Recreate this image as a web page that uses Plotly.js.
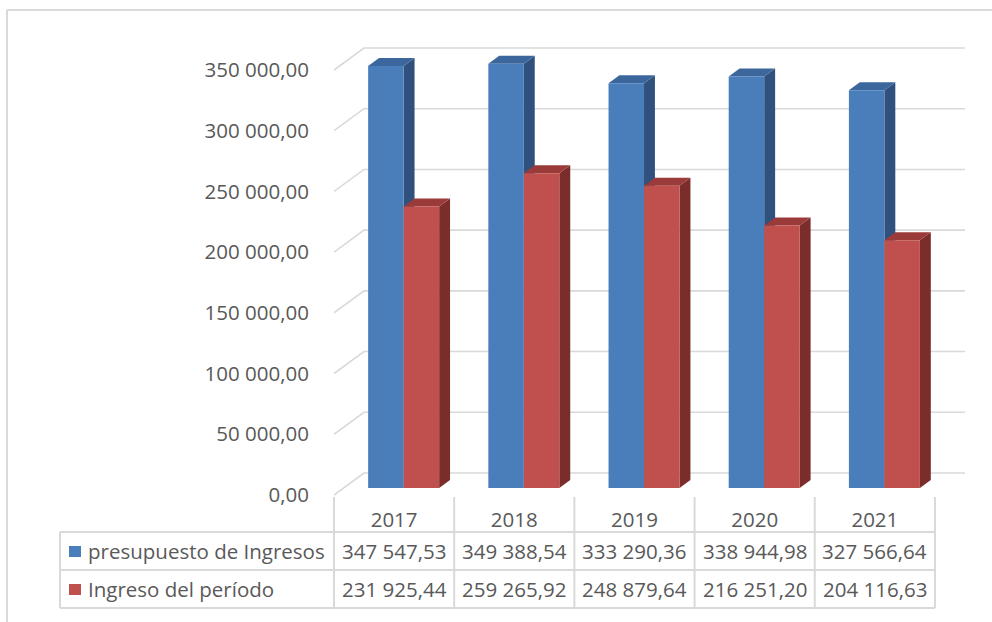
<!DOCTYPE html>
<html>
<head>
<meta charset="utf-8">
<script src="https://cdn.plot.ly/plotly-3.0.1.min.js"></script>
<style>html,body{margin:0;padding:0;background:#fff;}#chart{width:992px;height:622px;}</style>
</head>
<body>
<div id="chart"></div>
<script>
// ---- data ----
const categories = ['2017', '2018', '2019', '2020', '2021'];
const presupuesto = [347547.53, 349388.54, 333290.36, 338944.98, 327566.64];
const ingreso = [231925.44, 259265.92, 248879.64, 216251.20, 204116.63];
const seriesNames = ['presupuesto de Ingresos', 'Ingreso del período'];
const yTicks = [0, 50000, 100000, 150000, 200000, 250000, 300000, 350000];

// ---- geometry / style ----
const W = 992, H = 622;
const plotL = 334, plotR = 965, plotT = 30, plotB = 500;
const xMin = -0.5, xMax = 4.75;
const catPx = (plotR - plotL) / (xMax - xMin);
const frontZeroPx = 495;
const pxPerUnit = 425 / 350000;
const yMin = -(plotB - frontZeroPx) / pxPerUnit;
const yMax = (frontZeroPx - plotT) / pxPerUnit;
// depth of the 3D box (back wall offset)
const DX = 30 / catPx, DY = 22 / pxPerUnit;
const f1 = 7 / 22, f2 = 15 / 22;    // bar front / back depth fractions
const barW = 35.5 / catPx;
const gridColor = '#d9d9d9';
const textColor = '#595959';
const FONT = 'Open Sans, Liberation Sans, sans-serif';
const FSIZE = 20.5;
const colors = [
  {front: '#4a7ebb', top: '#3c679c', side: '#30517e'},
  {front: '#c0504d', top: '#9b3b39', side: '#7b2d2b'}
];

function xp(px) { return (px - plotL) / (plotR - plotL); }
function yp(py) { return (plotB - py) / (plotB - plotT); }
function xToPaper(x) { return (x - xMin) / (xMax - xMin); }

function fmt(v) {
  const s = v.toFixed(2).split('.');
  return s[0].replace(/\B(?=(\d{3})+(?!\d))/g, ' ') + ',' + s[1];
}

const traces = [];
// back wall gridlines with perspective diagonals
yTicks.forEach(t => {
  traces.push({
    type: 'scatter', mode: 'lines', hoverinfo: 'skip', showlegend: false,
    x: [xMin, xMin + DX, 4.5 + DX],
    y: [t, t + DY, t + DY],
    line: {color: gridColor, width: 1.6}
  });
});

function poly(xs, ys, color) {
  traces.push({
    type: 'scatter', mode: 'lines', fill: 'toself', fillcolor: color,
    hoverinfo: 'skip', showlegend: false,
    x: xs.concat([xs[0]]), y: ys.concat([ys[0]]),
    line: {width: 0, color: color}
  });
}

const series = [presupuesto, ingreso];
categories.forEach((c, i) => {
  series.forEach((vals, s) => {
    const v = vals[i];
    const cx = i + f1 * DX;
    const a = s === 0 ? cx - barW : cx;
    const b = a + barW;
    const y0 = f1 * DY, y1 = v + f1 * DY;
    const sdx = (f2 - f1) * DX, sdy = (f2 - f1) * DY;
    poly([b, b, b + sdx, b + sdx], [y0, y1, y1 + sdy, y0 + sdy], colors[s].side);
    poly([a, b, b + sdx, a + sdx], [y1, y1, y1 + sdy, y1 + sdy], colors[s].top);
    poly([a, b, b, a], [y0, y0, y1, y1], colors[s].front);
  });
});

const shapes = [];
const annotations = [];
const lineStyle = {color: gridColor, width: 2};
// chart border (top, left)
shapes.push({type: 'line', xref: 'paper', yref: 'paper', x0: xp(7), x1: xp(992), y0: yp(10), y1: yp(10), line: lineStyle});
shapes.push({type: 'line', xref: 'paper', yref: 'paper', x0: xp(7), x1: xp(7), y0: yp(10), y1: yp(622), line: lineStyle});
// data table
const tRow0 = 497, tRow1 = 532, tRow2 = 570, tRow3 = 608, tLeft = 60;
for (let k = 0; k <= categories.length; k++) {
  const x = xToPaper(k - 0.5);
  shapes.push({type: 'line', xref: 'paper', yref: 'paper', x0: x, x1: x, y0: yp(tRow0), y1: yp(tRow3), line: lineStyle});
}
[tRow1, tRow2, tRow3].forEach(r => {
  shapes.push({type: 'line', xref: 'paper', yref: 'paper', x0: xp(tLeft), x1: xToPaper(categories.length - 0.5), y0: yp(r), y1: yp(r), line: lineStyle});
});
shapes.push({type: 'line', xref: 'paper', yref: 'paper', x0: xp(tLeft), x1: xp(tLeft), y0: yp(tRow1), y1: yp(tRow3), line: lineStyle});

const rowMid = [(tRow1 + tRow2) / 2, (tRow2 + tRow3) / 2];
series.forEach((vals, s) => {
  // legend key
  shapes.push({type: 'rect', xref: 'paper', yref: 'paper', x0: xp(69), x1: xp(81), y0: yp(rowMid[s] - 5), y1: yp(rowMid[s] + 6), fillcolor: colors[s].front, line: {width: 0}});
  annotations.push({xref: 'paper', yref: 'paper', x: xp(86), y: yp(rowMid[s]), xanchor: 'left', yanchor: 'middle', showarrow: false, text: seriesNames[s], font: {family: FONT, size: FSIZE, color: textColor}});
  vals.forEach((v, i) => {
    annotations.push({xref: 'x', yref: 'paper', x: i, y: yp(rowMid[s]), xanchor: 'center', yanchor: 'middle', showarrow: false, text: fmt(v), font: {family: FONT, size: FSIZE, color: textColor}});
  });
});

const layout = {
  width: W, height: H,
  margin: {l: plotL, r: W - plotR, t: plotT, b: H - plotB, pad: 0},
  paper_bgcolor: '#ffffff', plot_bgcolor: 'rgba(0,0,0,0)',
  separators: ', ',
  showlegend: false,
  xaxis: {
    range: [xMin, xMax], showgrid: false, zeroline: false, showline: false,
    tickmode: 'array', tickvals: categories.map((c, i) => i), ticktext: categories,
    ticks: 'outside', ticklen: 1, tickcolor: 'rgba(0,0,0,0)',
    tickfont: {family: FONT, size: FSIZE, color: textColor}, fixedrange: true
  },
  yaxis: {
    range: [yMin, yMax], showgrid: false, zeroline: false, showline: false,
    tickmode: 'array', tickvals: yTicks, tickformat: ',.2f',
    ticks: 'outside', ticklen: 20, tickcolor: 'rgba(0,0,0,0)',
    tickfont: {family: FONT, size: FSIZE, color: textColor}, fixedrange: true
  },
  shapes: shapes,
  annotations: annotations
};

Plotly.newPlot('chart', traces, layout, {displayModeBar: false, staticPlot: true});
</script>
</body>
</html>
